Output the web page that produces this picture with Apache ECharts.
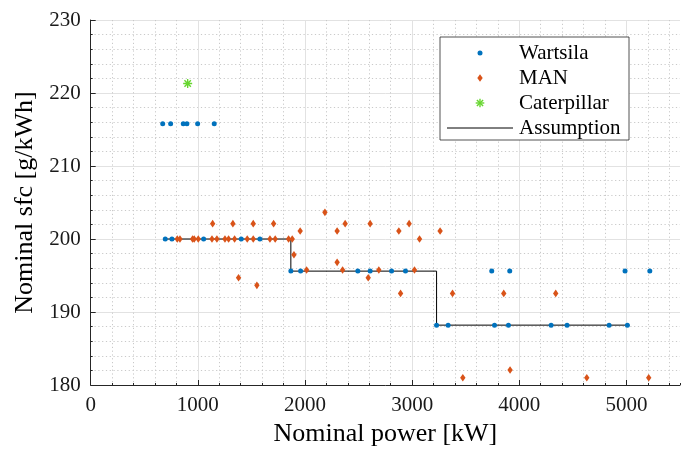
<!DOCTYPE html>
<html>
<head>
<meta charset="utf-8">
<script src="https://cdn.jsdelivr.net/npm/echarts@6/dist/echarts.min.js"></script>
<style>
  html, body { margin: 0; padding: 0; background: #fff; }
  #chart { width: 698px; height: 455px; }
</style>
</head>
<body>
<div id="chart"></div>
<script>
// Engine sfc survey: nominal power [kW] vs nominal specific fuel consumption [g/kWh]
const wartsilaPower = [672, 746, 864, 898, 998, 1153,
  696, 758, 1054, 1405, 1579,
  1868, 1959, 2493, 2608, 2808, 2938, 3743, 3911, 4987, 5218,
  3228, 3336, 3769, 3899, 4297, 4446, 4838, 5009];
const wartsilaSfc = [215.8, 215.8, 215.8, 215.8, 215.8, 215.8,
  200, 200, 200, 200, 200,
  195.6, 195.6, 195.6, 195.6, 195.6, 195.6, 195.6, 195.6, 195.6, 195.6,
  188.2, 188.2, 188.2, 188.2, 188.2, 188.2, 188.2, 188.2];

const manPower = [808, 833, 951, 966, 1004, 1132, 1178, 1253, 1287, 1343, 1461, 1517, 1673, 1722, 1847, 1881, 3069,
  1138, 1327, 1517, 1707, 2375, 2608, 2972,
  1955, 2300, 2876, 3261,
  2186,
  1897,
  2300,
  2015, 2351, 2689, 3022,
  1380, 2590,
  1551,
  2892, 3377, 3855, 4340,
  3914,
  3473, 4630, 5208];
const manSfc = [200, 200, 200, 200, 200, 200, 200, 200, 200, 200, 200, 200, 200, 200, 200, 200, 200,
  202.1, 202.1, 202.1, 202.1, 202.1, 202.1, 202.1,
  201.1, 201.1, 201.1, 201.1,
  203.65,
  197.85,
  196.8,
  195.75, 195.75, 195.75, 195.75,
  194.7, 194.7,
  193.65,
  192.55, 192.55, 192.55, 192.55,
  182.05,
  181.0, 181.0, 181.0];

const caterpillarPower = [905];
const caterpillarSfc = [221.3];

// Assumed stepwise sfc: power breakpoints and the sfc level on each step
const stepPower = [696, 1868, 3228, 5009];
const stepSfc = [200, 195.6, 188.2];

const xTicks = [0, 1000, 2000, 3000, 4000, 5000];
const yTicks = [180, 190, 200, 210, 220, 230];

const legendNames = ['Wartsila', 'MAN', 'Caterpillar', 'Assumption'];

const C_BLUE = '#0072BD';
const C_ORANGE = '#D95319';
const C_GREEN = '#66d62e';
const FONT = '"Liberation Serif", "DejaVu Serif", serif';

function pairs(xs, ys) { return xs.map((x, i) => [x, ys[i]]); }

// corner points of the step line
const stepLine = [];
for (let i = 0; i < stepSfc.length; i++) {
  stepLine.push([stepPower[i], stepSfc[i]]);
  stepLine.push([stepPower[i + 1], stepSfc[i]]);
}

const chart = echarts.init(document.getElementById('chart'), null, { renderer: 'canvas' });

const GL = 90.7, GT = 20, GR = 680, GB = 385;

// legend box (drawn as graphic)
const LX = 440, LY = 37, LW = 189, LH = 103;
const rowY = [53, 78, 103, 128];
const iconX = 480, textX = 519;
const SW = 1.4;
const legendGraphic = [
  { type: 'rect', shape: { x: LX, y: LY, width: LW, height: LH },
    style: { fill: '#fff', stroke: '#262626', lineWidth: 0.8 }, z: 100 },
  { type: 'circle', shape: { cx: iconX, cy: rowY[0], r: 2.5 }, style: { fill: C_BLUE }, z: 101 },
  { type: 'polygon', shape: { points: [[iconX, rowY[1] - 3.8], [iconX + 2.7, rowY[1]], [iconX, rowY[1] + 3.8], [iconX - 2.7, rowY[1]]] },
    style: { fill: C_ORANGE }, z: 101 },
  { type: 'group', x: iconX, y: rowY[2], z: 101, children: [
    { type: 'line', shape: { x1: 0, y1: -4.3, x2: 0, y2: 4.3 }, style: { stroke: C_GREEN, lineWidth: SW }, z: 101 },
    { type: 'line', shape: { x1: -4.3, y1: 0, x2: 4.3, y2: 0 }, style: { stroke: C_GREEN, lineWidth: SW }, z: 101 },
    { type: 'line', shape: { x1: -3.1, y1: -3.1, x2: 3.1, y2: 3.1 }, style: { stroke: C_GREEN, lineWidth: SW }, z: 101 },
    { type: 'line', shape: { x1: -3.1, y1: 3.1, x2: 3.1, y2: -3.1 }, style: { stroke: C_GREEN, lineWidth: SW }, z: 101 }
  ] },
  { type: 'line', shape: { x1: 447, y1: rowY[3], x2: 513, y2: rowY[3] }, style: { stroke: '#000', lineWidth: 1 }, z: 101 }
];
legendNames.forEach((name, i) => {
  legendGraphic.push({
    type: 'text', x: textX, y: rowY[i], z: 101,
    style: { text: name, font: '21px ' + FONT, fill: '#000', textVerticalAlign: 'middle', textAlign: 'left' }
  });
});

const asteriskPath = 'path://M0,-1L0,1M-1,0L1,0M-0.71,-0.71L0.71,0.71M-0.71,0.71L0.71,-0.71';

chart.setOption({
  animation: false,
  backgroundColor: '#fff',
  grid: { left: GL, top: GT, right: 698 - GR, bottom: 455 - GB, outerBoundsMode: 'none', containLabel: false },
  xAxis: [
    {
      type: 'value', min: 0, max: 5500, interval: 1000, z: 1,
      name: 'Nominal power [kW]', nameLocation: 'middle', nameGap: 36,
      nameTextStyle: { fontFamily: FONT, fontSize: 26, color: '#000' },
      axisLine: { show: true, onZero: false, lineStyle: { color: '#262626', width: 1 } },
      axisTick: { show: true, inside: true, length: 5, lineStyle: { color: '#262626' } },
      axisLabel: { fontFamily: FONT, fontSize: 21, color: '#1a1a1a', margin: 10, showMaxLabel: false,
        formatter: v => xTicks.includes(v) ? String(v) : '' },
      splitLine: { show: true, showMinLine: false, showMaxLine: false, lineStyle: { color: '#e2e2e2', width: 1 } }
    },
    {
      type: 'value', min: 0, max: 5500, interval: 200, z: 0, position: 'bottom',
      axisLine: { show: false },
      axisTick: { show: true, inside: true, length: 2, lineStyle: { color: '#262626' } },
      axisLabel: { show: false },
      splitLine: { show: true, showMinLine: false, showMaxLine: false,
        lineStyle: { color: '#c9c9c9', width: 1, type: [1.2, 2.6] } }
    }
  ],
  yAxis: {
    type: 'value', min: 180, max: 230, interval: 10,
    name: 'Nominal sfc [g/kWh]', nameLocation: 'middle', nameGap: 47,
    nameTextStyle: { fontFamily: FONT, fontSize: 26, color: '#000' },
    axisLine: { show: true, onZero: false, lineStyle: { color: '#262626', width: 1 } },
    axisTick: { show: true, inside: true, length: 5, lineStyle: { color: '#262626' } },
    minorTick: { show: true, splitNumber: 5, length: 2, lineStyle: { color: '#262626' } },
    axisLabel: { fontFamily: FONT, fontSize: 21, color: '#1a1a1a', margin: 10,
      formatter: v => yTicks.includes(v) ? String(v) : '' },
    splitLine: { show: true, showMinLine: false, lineStyle: { color: '#e2e2e2', width: 1 } },
    minorSplitLine: { show: true, lineStyle: { color: '#c9c9c9', width: 1, type: [1.2, 2.6] } }
  },
  graphic: legendGraphic,
  series: [
    {
      name: 'Assumption', type: 'line', xAxisIndex: 0, data: stepLine,
      showSymbol: false, symbol: 'none', lineStyle: { color: '#000', width: 1 }, z: 2
    },
    {
      name: 'Wartsila', type: 'scatter', xAxisIndex: 0, data: pairs(wartsilaPower, wartsilaSfc),
      symbol: 'circle', symbolSize: 5, itemStyle: { color: C_BLUE, opacity: 1 }, z: 3
    },
    {
      name: 'MAN', type: 'scatter', xAxisIndex: 0, data: pairs(manPower, manSfc),
      symbol: 'diamond', symbolSize: [5.4, 7.6], itemStyle: { color: C_ORANGE, opacity: 1 }, z: 4
    },
    {
      name: 'Caterpillar', type: 'scatter', xAxisIndex: 0, data: pairs(caterpillarPower, caterpillarSfc),
      symbol: asteriskPath, symbolSize: 9, symbolKeepAspect: true,
      itemStyle: { color: C_GREEN, borderColor: C_GREEN, borderWidth: SW, opacity: 1 }, z: 5
    }
  ]
});
</script>
</body>
</html>
